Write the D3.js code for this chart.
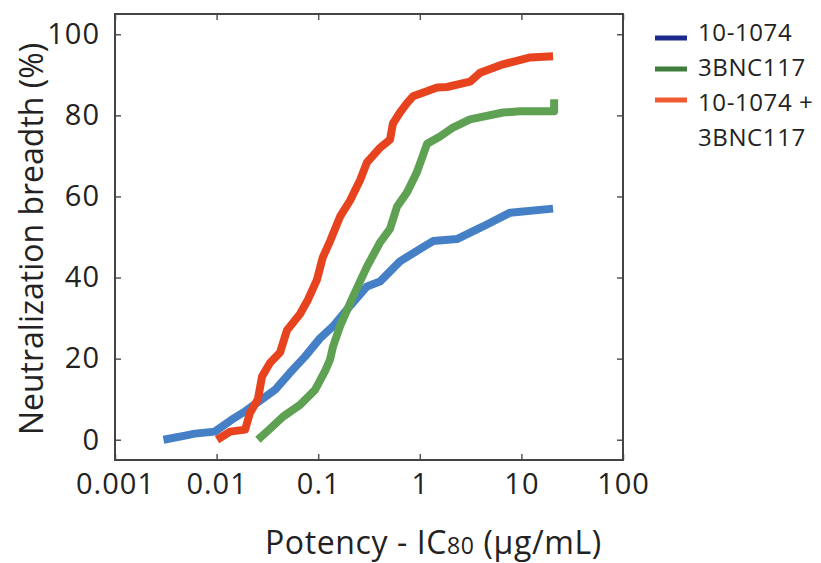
<!DOCTYPE html>
<html>
<head>
<meta charset="utf-8">
<script src="https://cdn.jsdelivr.net/npm/d3@7"></script>
<style>
  body { margin: 0; background: #fff; }
  text { font-family: "Open Sans", sans-serif; fill: #222; }
</style>
</head>
<body>
<script>
"use strict";

// potency (µg/mL) vs cumulative breadth (%)
var mab1074 = [
  [0.003, 0], [0.0049, 1], [0.0061, 1.5], [0.0096, 2], [0.0142, 5], [0.0191, 7],
  [0.028, 10], [0.0376, 12.3], [0.0527, 16.5], [0.0741, 20.5], [0.104, 25],
  [0.14, 28], [0.206, 33], [0.302, 37.8], [0.405, 39], [0.638, 44], [1.0, 47],
  [1.35, 49], [2.32, 49.5], [4.19, 52.6], [7.73, 56], [20.5, 57]
];
var mab3bnc = [
  [0.0255, 0], [0.0313, 2], [0.0451, 5.7], [0.0662, 8.6], [0.0931, 12.3],
  [0.117, 17], [0.131, 19.8], [0.14, 23], [0.164, 28], [0.22, 35.3],
  [0.302, 42.7], [0.405, 48.6], [0.509, 52], [0.597, 57.5], [0.748, 61],
  [0.937, 66], [1.18, 73], [1.58, 74.8], [2.12, 77], [3.12, 79], [6.59, 80.7],
  [9.69, 81], [21, 81], [21, 84]
];
var combo = [
  [0.0101, 0], [0.0136, 2], [0.0191, 2.5], [0.0213, 6.6], [0.0255, 10],
  [0.028, 15.6], [0.0336, 19], [0.0421, 21.5], [0.0493, 27], [0.0662, 31],
  [0.0795, 34.6], [0.0973, 39.5], [0.111, 45], [0.131, 49], [0.164, 55],
  [0.206, 59], [0.258, 64], [0.302, 68.4], [0.405, 72], [0.509, 74],
  [0.544, 78], [0.638, 80.7], [0.748, 83], [0.857, 84.7], [1.07, 85.6],
  [1.48, 86.9], [1.85, 87], [3.12, 88.3], [3.92, 90.5], [6.59, 92.6],
  [12.2, 94.3], [20.5, 94.6]
];

var seriesNames = ["10-1074", "3BNC117", "10-1074 +|3BNC117"];
var seriesData = [mab1074, mab3bnc, combo];
var lineColors = ["#4580c6", "#5ea153", "#e8431f"];
var legendColors = ["#1b2a8c", "#3e7d3c", "#ef5a2f"];

var xTicks = [0.001, 0.01, 0.1, 1, 10, 100];
var yTicks = [0, 20, 40, 60, 80, 100];

var width = 821, height = 563;
var plot = { left: 115, top: 14, right: 623, bottom: 460 };

var svg = d3.select("body").append("svg")
  .attr("width", width)
  .attr("height", height);

var x = d3.scaleLog().domain([0.001, 100]).range([plot.left, plot.right]);
var y = d3.scaleLinear().domain([-5, 105]).range([plot.bottom, plot.top]);

// lines
var line = d3.line()
  .x(function (d) { return x(d[0]); })
  .y(function (d) { return y(d[1]); });

svg.append("g").selectAll("path")
  .data(seriesData)
  .enter().append("path")
  .attr("d", line)
  .attr("fill", "none")
  .attr("stroke", function (d, i) { return lineColors[i]; })
  .attr("stroke-width", 8)
  .attr("stroke-linejoin", "round")
  .attr("stroke-linecap", "butt");

// frame with inward ticks on every side
var fmtX = function (d) { return String(d); };

svg.append("g")
  .attr("transform", "translate(0," + plot.bottom + ")")
  .call(d3.axisBottom(x).tickValues(xTicks).tickFormat(fmtX).tickSizeInner(-6).tickSizeOuter(0).tickPadding(13));
svg.append("g")
  .attr("transform", "translate(0," + plot.top + ")")
  .call(d3.axisTop(x).tickValues(xTicks).tickFormat("").tickSizeInner(-6).tickSizeOuter(0));
svg.append("g")
  .attr("transform", "translate(" + plot.left + ",0)")
  .call(d3.axisLeft(y).tickValues(yTicks).tickSizeInner(-6).tickSizeOuter(0).tickPadding(15));
svg.append("g")
  .attr("transform", "translate(" + plot.right + ",0)")
  .call(d3.axisRight(y).tickValues(yTicks).tickFormat("").tickSizeInner(-6).tickSizeOuter(0));

svg.selectAll(".tick line").attr("stroke", "#555").attr("stroke-width", 1.5);
svg.selectAll(".domain").remove();
svg.selectAll(".tick text")
  .attr("font-size", 29)
  .attr("letter-spacing", 1)
  .attr("font-family", "Open Sans, sans-serif")
  .attr("fill", "#222");

svg.append("rect")
  .attr("x", plot.left).attr("y", plot.top)
  .attr("width", plot.right - plot.left)
  .attr("height", plot.bottom - plot.top)
  .attr("fill", "none")
  .attr("stroke", "#444")
  .attr("stroke-width", 2);

// axis titles
svg.append("text")
  .attr("transform", "translate(43," + ((plot.top + plot.bottom) / 2 + 2) + ") rotate(-90)")
  .attr("text-anchor", "middle")
  .attr("font-size", 32)
  .text("Neutralization breadth (%)");

var xt = svg.append("text")
  .attr("x", 265).attr("y", 554)
  .attr("font-size", 32)
  .attr("letter-spacing", 0.6);
xt.append("tspan").text("Potency - IC");
xt.append("tspan").attr("font-size", 23).text("80");
xt.append("tspan").text(" (µg/mL)");

// legend
var legend = svg.append("g").selectAll("g")
  .data(seriesNames)
  .enter().append("g");

legend.append("line")
  .attr("x1", 655).attr("x2", 687)
  .attr("y1", function (d, i) { return 38 + i * 31; })
  .attr("y2", function (d, i) { return 38 + i * 31; })
  .attr("stroke", function (d, i) { return legendColors[i]; })
  .attr("stroke-width", 5);

legend.append("text")
  .attr("x", 698)
  .attr("y", function (d, i) { return 41 + i * 35; })
  .attr("font-size", 24)
  .attr("letter-spacing", 0.6)
  .each(function (d) {
    var t = d3.select(this);
    d.split("|").forEach(function (part, k) {
      t.append("tspan").attr("x", 698).attr("dy", k ? 35 : 0).text(part);
    });
  });
</script>
</body>
</html>
